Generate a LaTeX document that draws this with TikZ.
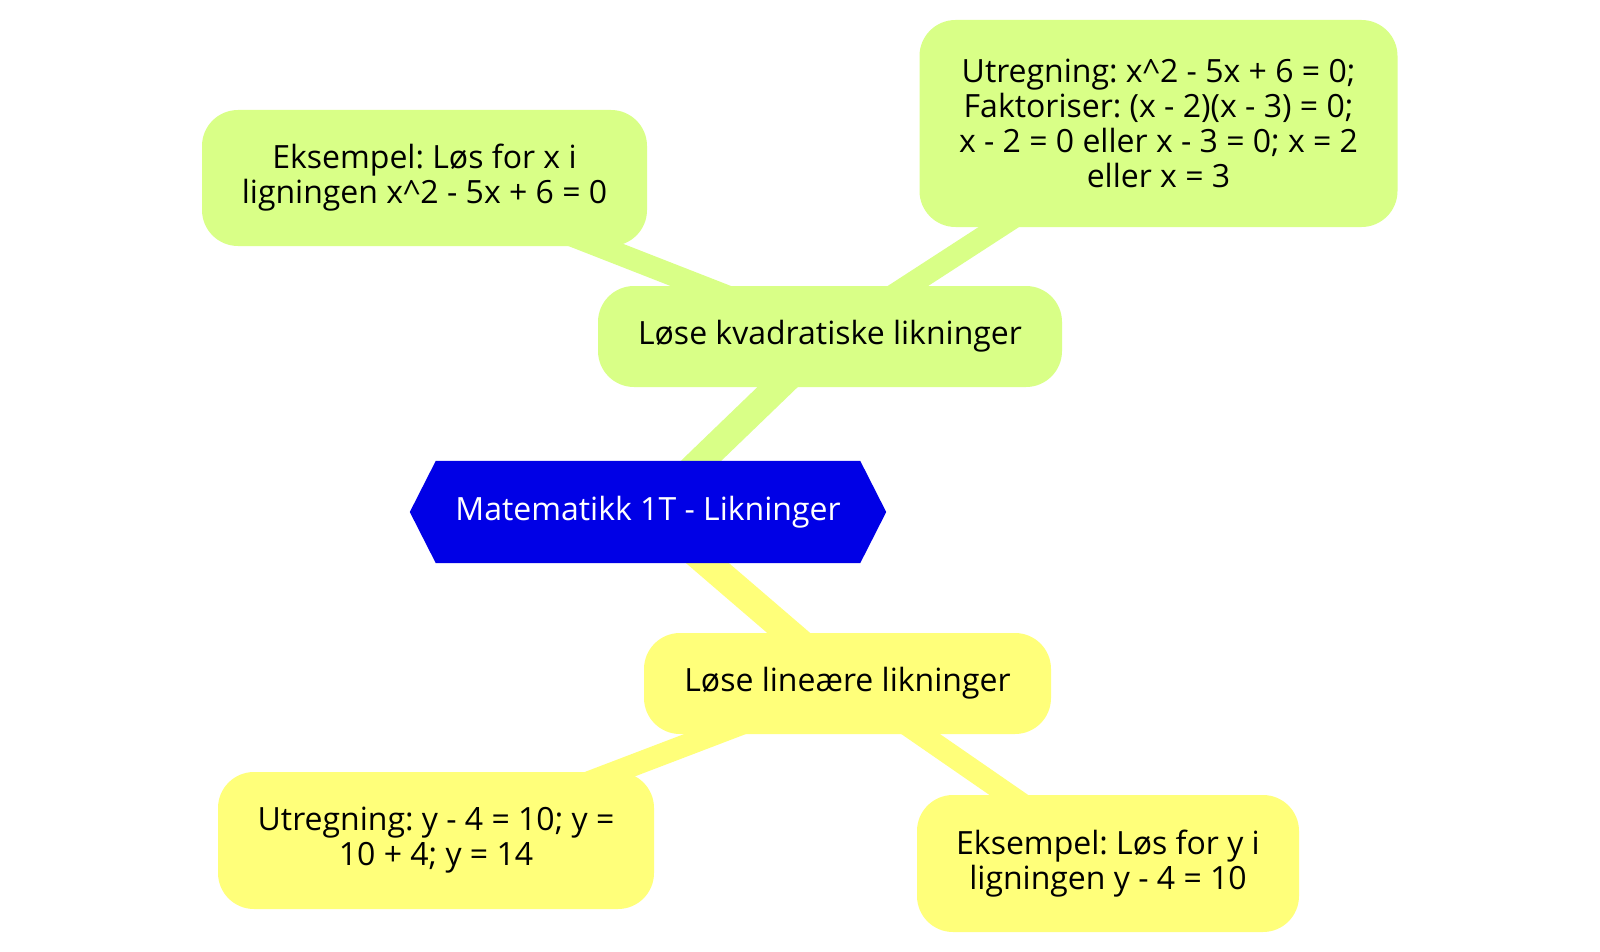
\documentclass[tikz,border=0pt]{standalone}
\usepackage{fontspec}
\setmainfont{Open Sans}
\frenchspacing
\usetikzlibrary{backgrounds,calc}
\definecolor{kgreen}{RGB}{217,255,135}
\definecolor{kyellow}{RGB}{255,255,122}
\definecolor{kblue}{RGB}{0,0,230}
\begin{document}
\begin{tikzpicture}[x=1pt,y=-1pt,
  txt/.style={font=\fontsize{32pt}{35pt}\selectfont, align=center, inner sep=0pt, text=black},
  gbox/.style={txt, fill=kgreen, rounded corners=36pt},
  ybox/.style={txt, fill=kyellow, rounded corners=36pt},
  conn1/.style={line width=28pt},
  conn2/.style={line width=22pt}]
\useasboundingbox (0,0) rectangle (1600,952);

\node[txt, text=white, minimum width=424pt, minimum height=102pt] (hex) at (648,512) {Matematikk 1T - Likninger};

\node[gbox, minimum width=464pt, minimum height=101pt] (kv) at (830,336.5) {Løse kvadratiske likninger};
\node[gbox, minimum width=445pt, minimum height=136pt] (tl) at (424.5,178) {Eksempel: Løs for x i\\ligningen x\string^2 - 5x + 6 = 0};
\node[gbox, minimum width=478pt, minimum height=207pt] (tr) at (1158.5,123.5) {Utregning: x\string^2 - 5x + 6 = 0;\\Faktoriser: (x - 2)(x - 3) = 0;\\x - 2 = 0 eller x - 3 = 0; x = 2\\eller x = 3};

\node[ybox, minimum width=407pt, minimum height=101pt] (lin) at (847.5,683.5) {Løse lineære likninger};
\node[ybox, minimum width=436pt, minimum height=137pt] (bl) at (436,840.5) {Utregning: y - 4 = 10; y =\\10 + 4; y = 14};
\node[ybox, minimum width=382pt, minimum height=137pt] (br) at (1108,863.5) {Eksempel: Løs for y i\\ligningen y - 4 = 10};

\begin{scope}[on background layer]
  \fill[white] (0,0) rectangle (1600,952);
  \draw[kgreen, conn1] (hex.center) -- (kv.center);
  \draw[kyellow, conn1] (hex.center) -- (lin.center);
  \draw[kgreen, conn2] (kv.center) -- (tl.center);
  \draw[kgreen, conn2] (kv.center) -- (tr.center);
  \draw[kyellow, conn2] (lin.center) -- (bl.center);
  \draw[kyellow, conn2] (lin.center) -- (br.center);
  \fill[kblue] ($(hex.west)+(-26,0)$) -- (hex.north west) -- (hex.north east) -- ($(hex.east)+(26,0)$) -- (hex.south east) -- (hex.south west) -- cycle;
\end{scope}
\end{tikzpicture}
\end{document}
